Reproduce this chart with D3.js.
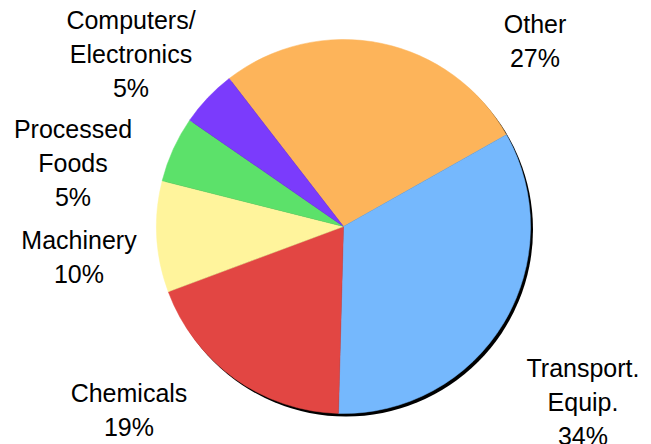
<!DOCTYPE html>
<html>
<head>
<meta charset="utf-8">
<script src="https://cdn.jsdelivr.net/npm/d3@7"></script>
<style>
  body { margin: 0; background: #fff; }
  text { font-family: "Liberation Sans", Arial, sans-serif; font-size: 25px; fill: #000; }
</style>
</head>
<body>
<div id="vis"></div>
<script>
// Data (clockwise from the top-left)
var sectors = ["Other", "Transport. Equip.", "Chemicals", "Machinery", "Processed Foods", "Computers/ Electronics"];
var shares = [27.3, 33.6, 18.9, 9.6, 5.7, 4.9];
var pctLabels = ["27%", "34%", "19%", "10%", "5%", "5%"];
var labelLines = [["Other"], ["Transport.", "Equip."], ["Chemicals"], ["Machinery"], ["Processed", "Foods"], ["Computers/", "Electronics"]];
var colors = ["#fdb45a", "#75b8fd", "#e24643", "#fff49c", "#5ce16a", "#7b3bfc"];

(function() {
    var width = 651,
        height = 444;

    var cx = 343.5, cy = 226.5, radius = 187;

    // label anchor positions (layout only)
    var labelPos = [
        {x: 535, y: 33},
        {x: 583, y: 377},
        {x: 129, y: 402},
        {x: 79, y: 249},
        {x: 73, y: 138},
        {x: 131, y: 29}
    ];
    var lineH = 34;

    var svg = d3.select("#vis").append("svg")
        .attr("width", width)
        .attr("height", height);

    var pie = d3.pie()
        .sort(null)
        .startAngle(-37.7 * Math.PI / 180)
        .endAngle((360 - 37.7) * Math.PI / 180)
        .value(function(d) { return d; });

    var arc = d3.arc()
        .innerRadius(0)
        .outerRadius(radius);

    // drop shadow
    svg.append("circle")
        .attr("cx", cx + 2.5)
        .attr("cy", cy + 3)
        .attr("r", radius)
        .attr("fill", "#000");

    var g = svg.append("g")
        .attr("transform", "translate(" + cx + "," + cy + ")");

    g.selectAll("path")
        .data(pie(shares))
        .enter().append("path")
        .attr("d", arc)
        .attr("fill", function(d, i) { return colors[i]; })
        .attr("stroke", function(d, i) { return colors[i]; })
        .attr("stroke-width", 0.5)
        .append("title")
        .text(function(d, i) { return sectors[i] + " " + pctLabels[i]; });

    // labels
    var labels = svg.selectAll(".lbl")
        .data(sectors)
        .enter().append("text")
        .attr("class", "lbl")
        .attr("text-anchor", "middle");

    labels.each(function(d, i) {
        var t = d3.select(this);
        var lines = labelLines[i].concat([pctLabels[i]]);
        lines.forEach(function(s, j) {
            t.append("tspan")
                .attr("x", labelPos[i].x)
                .attr("y", labelPos[i].y + j * lineH)
                .text(s);
        });
    });
})();
</script>
</body>
</html>
